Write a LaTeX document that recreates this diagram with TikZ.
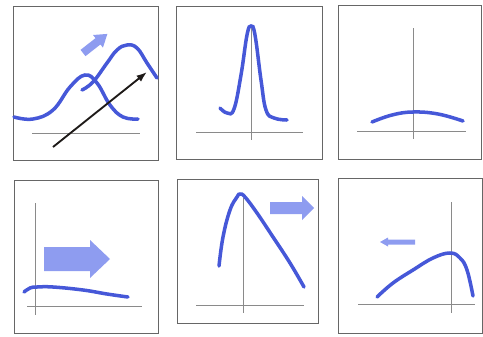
\documentclass[tikz,border=0pt]{standalone}
\usepackage{tikz}
\usetikzlibrary{arrows.meta}
\definecolor{Curve}{HTML}{4658D8}
\definecolor{Push}{HTML}{8E9CF0}
\definecolor{Frame}{HTML}{666666}
\definecolor{Axis}{HTML}{8A8A8A}
\definecolor{Ink}{HTML}{1E1A18}
\tikzset{
  frame/.style={draw=Frame,line width=.8pt},
  axis/.style={draw=Axis,line width=.5pt},
  curve/.style={draw=Curve,line width=3pt,line cap=round,smooth,tension=.7},
  push/.style={fill=Push},
  vec/.style={-{Latex[length=9pt,width=6.5pt]},draw=Ink,line width=1.6pt}
}
% fat shift arrow: tail, angle, length, shaft half, head half, head length
\newcommand{\fatarrow}[6]{%
  \begin{scope}[shift={(#1)},rotate=#2]
    \fill[push] (0,-#4) -- ({#3-#6},-#4) -- ({#3-#6},-#5) -- (#3,0)
      -- ({#3-#6},#5) -- ({#3-#6},#4) -- (0,#4) -- cycle;
  \end{scope}}

\begin{document}
\begin{tikzpicture}[x=.03cm,y=-.03cm]
  \useasboundingbox (0,0) rectangle (483,336);
  % frames
  \draw[frame] (13,6) rectangle (158,160);
  \draw[frame] (176,6) rectangle (322,159);
  \draw[frame] (338,5) rectangle (481,159);
  \draw[frame] (14,180) rectangle (158,333);
  \draw[frame] (177,179) rectangle (318,323);
  \draw[frame] (338,178) rectangle (482,333);
  % axes
  \draw[axis] (32,133) -- (140,133);
  \draw[axis] (196,132) -- (303,132); \draw[axis] (251,28) -- (251,140);
  \draw[axis] (357,131) -- (466,131); \draw[axis] (413,28) -- (413,139);
  \draw[axis] (27,306) -- (142,306); \draw[axis] (35,203) -- (35,315);
  \draw[axis] (196,305) -- (304,305); \draw[axis] (243,198) -- (243,313);
  \draw[axis] (358,304) -- (475,304); \draw[axis] (451,202) -- (451,313);
  % shift arrows
  \fatarrow{83,53}{38}{31}{4}{8}{12}
  \fatarrow{44,259}{0}{66}{12}{19}{20}
  \fatarrow{270,208}{0}{44}{6}{12}{12}
  \fatarrow{415,242}{180}{35}{2.5}{4.5}{8}
  % curves
  \draw[curve] plot coordinates {(14,117) (33,119) (53,110) (70,87) (85,75)
    (97,83) (110,105) (123,117) (138,119)};
  \draw[curve] plot coordinates {(82,90) (93,82) (107,63) (117,50) (127,45)
    (137,48) (147,63) (157,78)};
  \draw[curve] plot coordinates {(220,108) (227,113) (234,109) (241,75) (247,35)
    (251,26) (255,35) (261,80) (266,110) (274,118) (287,120)};
  \draw[curve] plot coordinates {(372,122) (392,115) (413,112) (438,114) (463,121)};
  \draw[curve] plot coordinates {(24,292) (30,288) (37,287) (53,287) (83,290)
    (107,294) (128,297)};
  \draw[curve] plot coordinates {(219,266) (223,237) (230,210) (237,197) (240,194)
    (245,197) (257,213) (273,237) (290,263) (304,287)};
  \draw[curve] plot coordinates {(377,297) (393,283) (413,270) (433,258) (450,253)
    (460,258) (467,270) (473,296)};
  % drift vector
  \coordinate (vtail) at (53,147);
  \coordinate (vtip) at (147,72);
  \draw[vec] (vtail) -- (vtip);
\end{tikzpicture}
\end{document}
